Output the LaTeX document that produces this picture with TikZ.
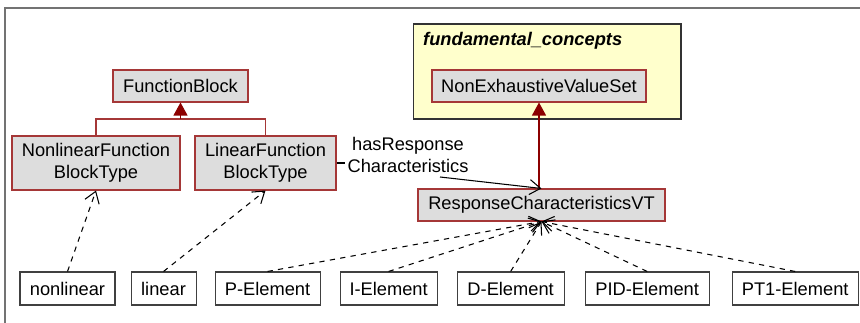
\documentclass[tikz,border=0pt]{standalone}
\usepackage{fontspec}
\setmainfont{Liberation Sans}
\usetikzlibrary{arrows.meta,calc,positioning}
\definecolor{clsred}{RGB}{165,55,55}
\definecolor{genred}{RGB}{140,0,0}
\definecolor{clsgray}{RGB}{221,221,221}
\definecolor{pkgyellow}{RGB}{255,255,204}
\tikzset{
  cls/.style={draw=clsred, fill=clsgray, line width=0.6pt, minimum height=0.64cm, align=center, inner sep=1pt},
  inst/.style={draw=black!75, fill=white, line width=0.6pt, minimum height=0.66cm, inner sep=1pt},
  pkg/.style={draw=black!80, fill=pkgyellow, line width=0.6pt, minimum width=5.36cm, minimum height=1.9cm},
  gen/.style={-{Triangle[length=2.6mm, width=2.8mm]}, line width=0.6pt, draw=genred},
  genline/.style={line width=0.6pt, draw=clsred},
  real/.style={-{Straight Barb[length=2.2mm, width=3mm]}, dashed, line width=0.6pt},
  assoc/.style={-{Straight Barb[length=2.2mm, width=3mm]}, line width=0.6pt}
}

\begin{document}
\begin{tikzpicture}[x=0.02cm, y=-0.02cm, font=\fontsize{10.4}{12.5}\selectfont]
  \useasboundingbox (0,0) rectangle (860,323);
  \draw[black!55, line width=1pt] (5,323) -- (5,8) -- (860,8);

  % package
  \node[pkg] (pkgbox) at (547,71.5) {};
  \node[anchor=west] (pkgname) at (417,41) {\textbf{\textit{fundamental\_concepts}}};
  \node[cls, minimum width=4.28cm] (nevs) at (539,86) {NonExhaustiveValueSet};

  % classes
  \node[cls, minimum width=2.7cm] (fb) at (180.5,86) {FunctionBlock};
  \node[cls, minimum width=3.36cm, minimum height=1.08cm] (nlfb) at (96,163) {NonlinearFunction\\BlockType};
  \node[cls, minimum width=2.82cm, minimum height=1.08cm] (lfb) at (265.5,163) {LinearFunction\\BlockType};
  \node[cls, minimum width=4.94cm] (rcvt) at (541.5,205) {ResponseCharacteristicsVT};
  \node[align=center, inner sep=1pt] (hrc) at (408,155) {hasResponse\\Characteristics};

  % instances
  \node[inst, minimum width=1.9cm] (nl) at (67.5,288.5) {nonlinear};
  \node[inst, minimum width=1.3cm, right=0.3cm of nl] (lin) {linear};
  \node[inst, minimum width=2.1cm, right=0.36cm of lin] (pel) {P-Element};
  \node[inst, minimum width=1.94cm, right=0.38cm of pel] (iel) {I-Element};
  \node[inst, minimum width=2.14cm, right=0.38cm of iel] (del) {D-Element};
  \node[inst, minimum width=2.48cm, right=0.4cm of del] (pid) {PID-Element};
  \node[inst, minimum width=2.52cm, right=0.44cm of pid] (pt1) {PT1-Element};

  % generalisations
  \coordinate (j) at (180.5,119);
  \draw[genline] (nlfb.north) |- (j) -| (lfb.north);
  \draw[gen] (j) -- (fb.south);
  \draw[gen] (rcvt.north -| nevs.south) -- (nevs.south);

  % association
  \coordinate (hrcend) at (440,177);
  \draw[line width=0.6pt] (lfb.east) -- (lfb.east -| hrc.west);
  \draw[assoc] (hrcend) -- (rcvt.north);

  % instance-of
  \draw[real] (nl.north) -- (nlfb.south);
  \draw[real] (lin.north) -- (lfb.south);
  \foreach \n in {pel,iel,del,pid,pt1}
    \draw[real] (\n.north) -- (rcvt.south);
\end{tikzpicture}
\end{document}
